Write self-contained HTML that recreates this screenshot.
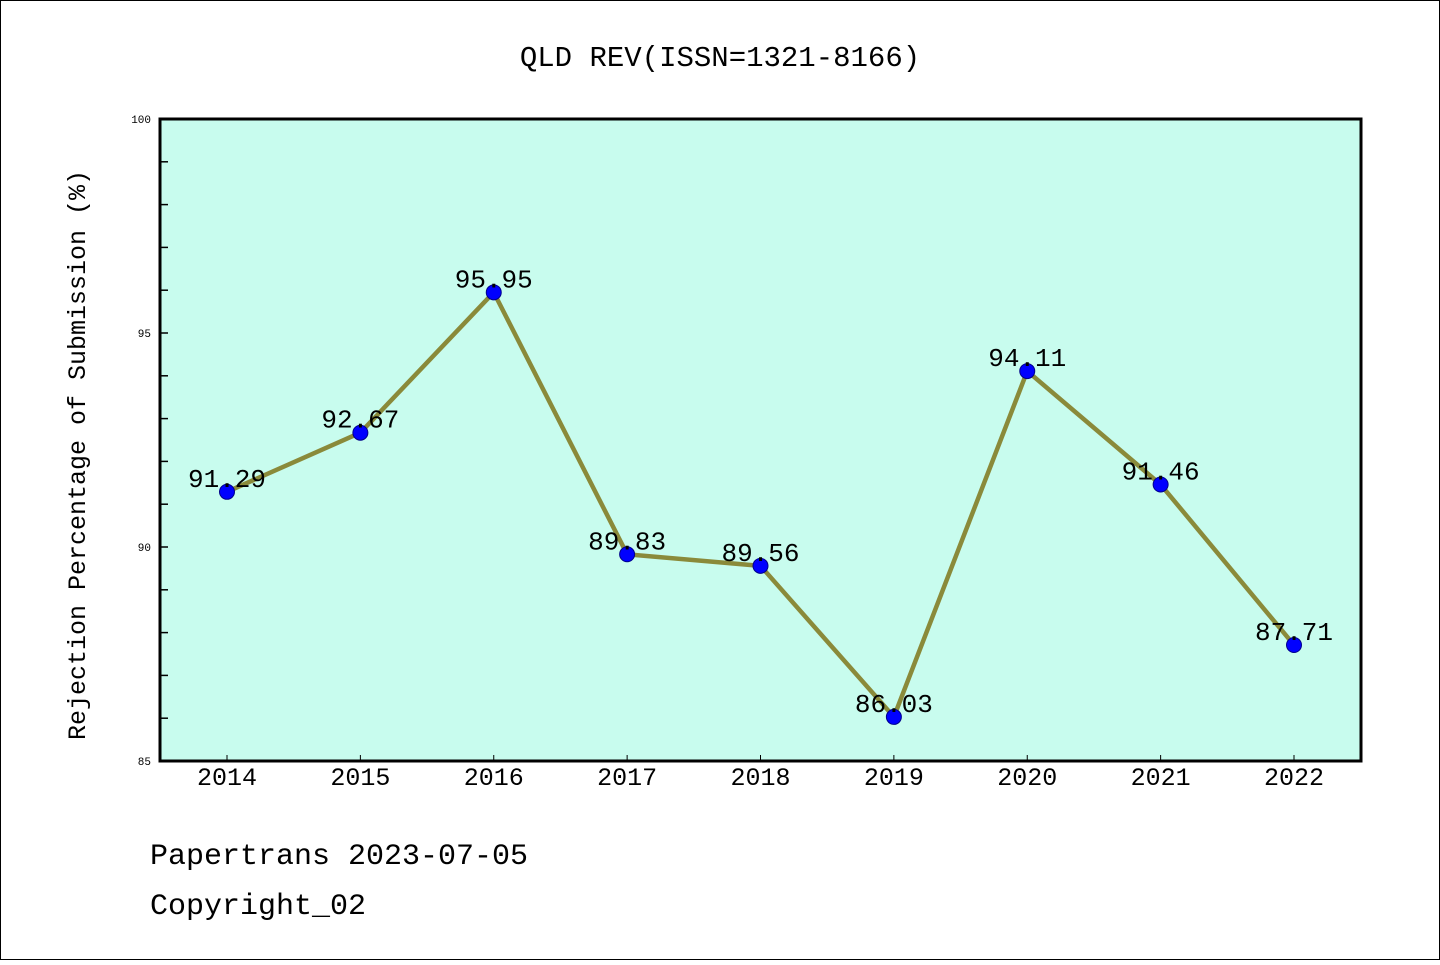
<!DOCTYPE html>
<html><head><meta charset="utf-8"><style>
body{margin:0;background:#fff}
svg text{font-family:"Liberation Mono",monospace}
</style></head><body>
<svg width="1440" height="960" xmlns="http://www.w3.org/2000/svg">
<rect x="0.5" y="0.5" width="1439" height="959" fill="#fff" stroke="#000"/>
<text x="720" y="66" font-size="29" text-anchor="middle">QLD REV(ISSN=1321-8166)</text>
<rect x="160" y="119" width="1201" height="642" fill="#c8fcee"/>
<g id="axes"></g>
<g id="marks"></g>
<rect x="160" y="119" width="1201" height="642" fill="none" stroke="#000" stroke-width="3"/>
<text transform="translate(85,455) rotate(-90)" font-size="25" text-anchor="middle">Rejection Percentage of Submission (%)</text>
<text x="150" y="864" font-size="30">Papertrans 2023-07-05</text>
<text x="150" y="914" font-size="30">Copyright_02</text>
</svg>
<script>
const years=["2014","2015","2016","2017","2018","2019","2020","2021","2022"];
const values=[91.29,92.67,95.95,89.83,89.56,86.03,94.11,91.46,87.71];
const valueLabels=["91.29","92.67","95.95","89.83","89.56","86.03","94.11","91.46","87.71"];
const yTicks=[85,90,95,100];
const yMin=85,yMax=100;
const NS="http://www.w3.org/2000/svg";
function xs(i){return 227+i*(1294-227)/(years.length-1);}
function ys(v){return 761-(v-yMin)/(yMax-yMin)*642;}
const ax=document.getElementById('axes'),mk=document.getElementById('marks');
function el(t,a,p){const e=document.createElementNS(NS,t);for(const k in a)e.setAttribute(k,a[k]);p.appendChild(e);return e;}
for(let v=yMin+1;v<yMax;v++){
  const l=el('line',{x1:160,x2:168,y1:ys(v),y2:ys(v),stroke:'#000','stroke-width':1.5},ax);
  
  
}
yTicks.forEach(v=>{
  const t=el('text',{x:151,y:ys(v)+4,'font-size':11,'text-anchor':'end'},ax);
  t.textContent=v;
  
  
});
years.forEach((y,i)=>{
  const l=el('line',{x1:xs(i),x2:xs(i),y1:761,y2:755,stroke:'#000','stroke-width':1},ax);
  
  
  const t=el('text',{x:xs(i),y:785,'font-size':25,'text-anchor':'middle'},ax);
  t.textContent=y;
  
  
});
const pts=values.map((v,i)=>xs(i)+','+ys(v)).join(' ');
const pl=el('polyline',{points:pts,fill:'none',stroke:'#8a8a3a','stroke-width':4.5,'stroke-linejoin':'round'},mk);


values.forEach((v,i)=>{
  const c=el('circle',{cx:xs(i),cy:ys(v),r:7.5,fill:'#0000ff',stroke:'#00008b','stroke-width':1},mk);
  
  
});
values.forEach((v,i)=>{
  const t=el('text',{x:xs(i),y:ys(v)-5,'font-size':26,'text-anchor':'middle'},mk);
  t.textContent=valueLabels[i];
  
  
});
</script>
</body></html>
